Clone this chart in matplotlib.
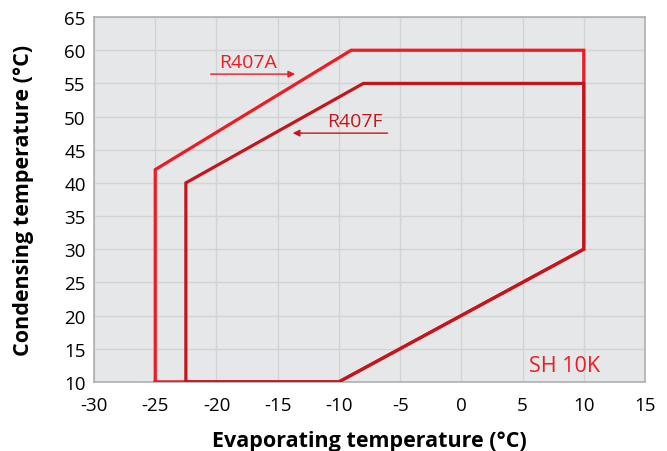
import matplotlib
matplotlib.use("Agg")
import matplotlib.pyplot as plt

plt.rcParams['font.family'] = ['Open Sans', 'DejaVu Sans']
plt.rcParams['axes.unicode_minus'] = False

# envelope outlines (evaporating, condensing)
r407a_x = [-25, -25, -9, 10, 10, -10, -25]
r407a_y = [10, 42, 60, 60, 30, 10, 10]
r407f_x = [-22.5, -22.5, -8, 10, 10, -10, -22.5]
r407f_y = [10, 40, 55, 55, 30, 10, 10]

xticks = list(range(-30, 16, 5))
yticks = list(range(10, 66, 5))

red_a = "#ed1c24"
red_f = "#c3161c"

fig = plt.figure(figsize=(6.67, 4.52), dpi=100)
ax = fig.add_axes([0.141, 0.153, 0.826, 0.807])
ax.set_facecolor("#e6e7e8")

ax.plot(r407a_x, r407a_y, color=red_a, lw=2.3, solid_joinstyle="miter", zorder=3)
ax.plot(r407f_x, r407f_y, color=red_f, lw=2.3, solid_joinstyle="miter", zorder=3)

ax.set_xlim(-30, 15)
ax.set_ylim(10, 65)
ax.set_xticks(xticks)
ax.set_yticks(yticks)
ax.tick_params(length=0, labelsize=13.5)
ax.tick_params(axis="x", pad=10)
ax.tick_params(axis="y", pad=6)
ax.grid(True, color="#d2d3d5", lw=1)
ax.set_axisbelow(True)
for s in ax.spines.values():
    s.set_color("#b0b0b0")
    s.set_linewidth(1.2)

ax.set_xlabel("Evaporating temperature (°C)", fontsize=15.5, fontweight="bold", labelpad=12)
ax.set_ylabel("Condensing temperature (°C)", fontsize=15.5, fontweight="bold", labelpad=22)

# labels with arrows
ax.text(-17.4, 56.9, "R407A", color=red_a, fontsize=14, ha="center", va="bottom")
ax.annotate("", xy=(-13.35, 56.4), xytext=(-20.7, 56.4),
            arrowprops=dict(arrowstyle="-|>", color=red_a, lw=1, mutation_scale=10))
ax.text(-8.7, 48.0, "R407F", color=red_f, fontsize=14, ha="center", va="bottom")
ax.annotate("", xy=(-14.0, 47.5), xytext=(-5.8, 47.5),
            arrowprops=dict(arrowstyle="-|>", color=red_f, lw=1, mutation_scale=10))

ax.text(11.3, 10.9, "SH 10K", color=red_a, fontsize=15.5, ha="right", va="bottom")

fig.savefig("out.png", dpi=100)
